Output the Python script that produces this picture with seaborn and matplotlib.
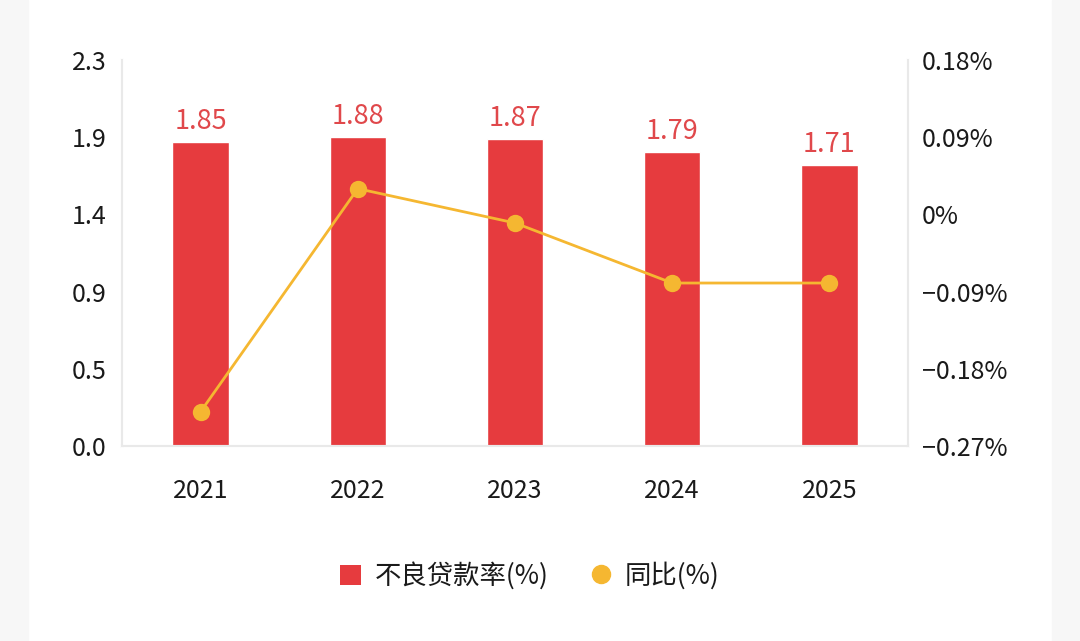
import numpy as np
import pandas as pd
import matplotlib
matplotlib.use("Agg")
import matplotlib.pyplot as plt
from matplotlib.patches import Patch, Rectangle
from matplotlib.lines import Line2D
import seaborn as sns

### data
years = ["2021", "2022", "2023", "2024", "2025"]
npl_ratio = [1.85, 1.88, 1.87, 1.79, 1.71]
yoy_change = [-0.23, 0.03, -0.01, -0.08, -0.08]

left_ticks = [0, 0.47, 0.94, 1.41, 1.88, 2.35]
left_labels = ["0.0", "0.5", "0.9", "1.4", "1.9", "2.3"]
right_ticks = [-0.27, -0.18, -0.09, 0, 0.09, 0.18]
right_labels = ["\u22120.27%", "\u22120.18%", "\u22120.09%", "0%", "0.09%", "0.18%"]

bar_color = "#e63b3e"
label_color = "#e0484b"
line_color = "#f5b731"
spine_color = "#e9e9e9"
text_color = "#1a1a1a"

sns.set_style("white")
plt.rcParams["font.family"] = ["Noto Sans CJK SC", "DejaVu Sans"]

df = pd.DataFrame({"year": years, "npl": npl_ratio, "yoy": yoy_change})

fig = plt.figure(figsize=(10.8, 6.41), dpi=100)
# grey page strips on both sides of the white card
fig.patches.append(Rectangle((0, 0), 28 / 1080, 1, transform=fig.transFigure,
                             color="#f7f7f7", zorder=0))
fig.patches.append(Rectangle((1052 / 1080, 0), 28 / 1080, 1, transform=fig.transFigure,
                             color="#f7f7f7", zorder=0))

ax = fig.add_axes([122 / 1080, 1 - 446 / 641, 786 / 1080, 386 / 641])
ax.patch.set_alpha(0)

sns.barplot(data=df, x="year", y="npl", color=bar_color, saturation=1,
            width=0.36, ax=ax)
ax.bar_label(ax.containers[0], labels=[f"{v:.2f}" for v in npl_ratio],
             padding=5, color=label_color, fontsize=19.5)

ax.set_ylim(0, 2.35)
ax.set_yticks(left_ticks)
ax.set_yticklabels(left_labels)
ax.set_xlim(-0.5, 4.5)
ax.set_xlabel("")
ax.set_ylabel("")
ax.tick_params(axis="y", length=0, pad=11, labelsize=18, labelcolor=text_color)
ax.tick_params(axis="x", length=0, pad=23, labelsize=18, labelcolor=text_color)

ax2 = ax.twinx()
sns.pointplot(data=df, x="year", y="yoy", color=line_color, markers="o",
              markersize=11, linewidth=2, ax=ax2)
ax2.set_ylim(-0.27, 0.18)
ax2.set_yticks(right_ticks)
ax2.set_yticklabels(right_labels)
ax2.set_xlim(-0.5, 4.5)
ax2.set_ylabel("")
ax2.tick_params(axis="y", length=0, pad=10, labelsize=18, labelcolor=text_color)

for a in (ax, ax2):
    a.spines["top"].set_visible(False)
    for side in ("left", "right", "bottom"):
        a.spines[side].set_color(spine_color)
        a.spines[side].set_linewidth(1.5)

handles = [
    Patch(facecolor=bar_color, edgecolor="none", label="不良贷款率(%)"),
    Line2D([], [], marker="o", linestyle="none", markersize=13,
           markerfacecolor=line_color, markeredgecolor=line_color, label="同比(%)"),
]
fig.legend(handles=handles, loc="center", bbox_to_anchor=(0.4907, 1 - 576 / 641),
           ncol=2, frameon=False, fontsize=19, handlelength=0.8, handleheight=0.8,
           handletextpad=0.5, columnspacing=1.6, labelcolor=text_color)

fig.savefig("out.png", dpi=100)
